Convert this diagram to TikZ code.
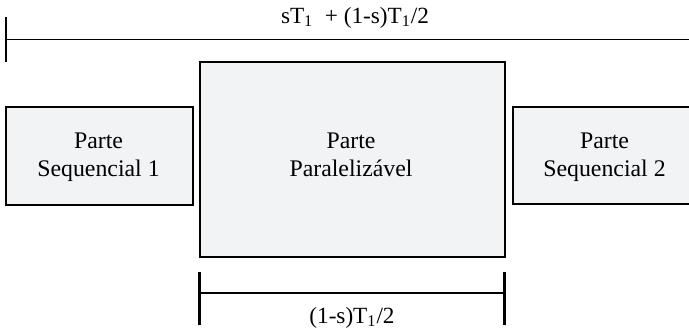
\documentclass[tikz,border=0pt]{standalone}
\usepackage{fontspec}
\setmainfont{Liberation Serif}
\definecolor{boxfill}{HTML}{F2F3F5}
\begin{document}
\begin{tikzpicture}[x=0.5pt,y=-0.5pt,
  part/.style={draw=black,line width=1.3pt,fill=boxfill,inner sep=0pt},
  parttext/.style={align=center,inner sep=0pt,font=\fontsize{11.9}{14}\selectfont},
  dimtext/.style={inner sep=0pt,anchor=base,font=\fontsize{11.6}{14}\selectfont},
  dimline/.style={line width=0.95pt},
  dimtick/.style={line width=1.15pt}]
\useasboundingbox (0,0) rectangle (689,329);
\begin{scope}
\clip (0,0) rectangle (689,329);
% the three parts of the program
\node[part,minimum width=93.5pt,minimum height=49pt] (seq1) at (99.5,156) {};
\node[part,minimum width=152.5pt,minimum height=97.5pt] (par) at (352.5,159.5) {};
\node[part,minimum width=91.5pt,minimum height=48.5pt] (seq2) at (604.5,155.5) {};
\node[parttext] (seq1txt) at (98.5,157) {Parte\\Sequencial 1};
\node[parttext] (partxt) at (351,155) {Parte\\Paralelizável};
\node[parttext] (seq2txt) at (604.5,157) {Parte\\Sequencial 2};
% total time
\coordinate (tA) at (6,17);
\coordinate (tB) at (6,62);
\coordinate (tL) at (6,39.5);
\coordinate (tR) at (692,39.5);
\draw[dimtick] (tA) -- (tB);
\draw[dimline] (tL) -- (tR);
\node[dimtext] (total) at (355,23) {sT\textsubscript{1}~ + (1-s)T\textsubscript{1}/2};
% parallel time
\coordinate (pA) at (199.5,272);
\coordinate (pB) at (199.5,325);
\coordinate (pC) at (504.5,272);
\coordinate (pD) at (504.5,325);
\coordinate (pL) at (199.5,293);
\coordinate (pR) at (504.5,293);
\draw[dimtick] (pA) -- (pB);
\draw[dimtick] (pC) -- (pD);
\draw[dimline] (pL) -- (pR);
\node[dimtext] (partime) at (352,323) {(1-s)T\textsubscript{1}/2};
\end{scope}
\end{tikzpicture}
\end{document}
